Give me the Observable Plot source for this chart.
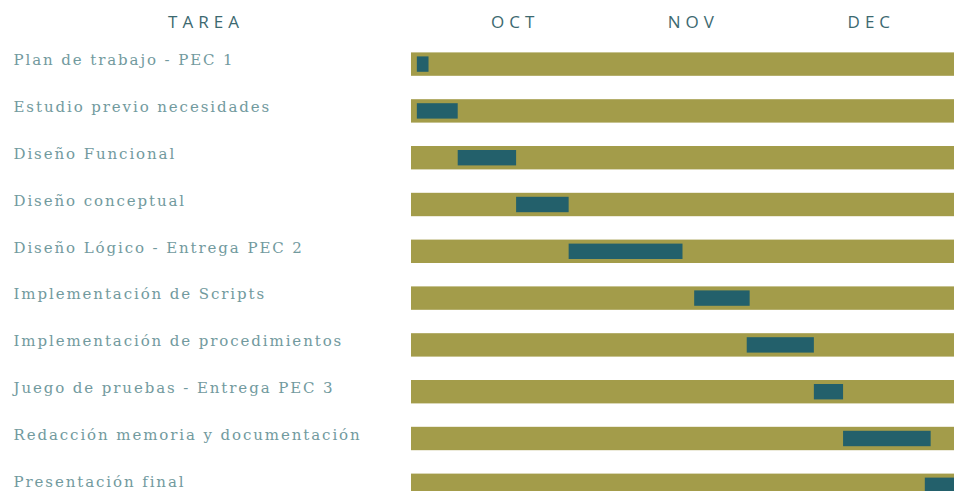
<!DOCTYPE html>
<html><head><meta charset="utf-8">
<script src="https://cdn.jsdelivr.net/npm/d3@7"></script>
<script src="https://cdn.jsdelivr.net/npm/@observablehq/plot@0.6"></script>
<style>
html,body{margin:0;padding:0;background:#fff;overflow:hidden;}
#chart svg{display:block;}
g[font-family="DejaVu Serif"] text{letter-spacing:1.9px;}
g[font-family="Open Sans"] text{letter-spacing:5px;}
</style></head><body><div id="chart"></div>
<script>
// Task names (rows, top to bottom)
const tasks = [
  "Plan de trabajo - PEC 1",
  "Estudio previo necesidades",
  "Diseño Funcional",
  "Diseño conceptual",
  "Diseño Lógico - Entrega PEC 2",
  "Implementación de Scripts",
  "Implementación de procedimientos",
  "Juego de pruebas - Entrega PEC 3",
  "Redacción memoria y documentación",
  "Presentación final"
];
// Start / end of each task
const starts = [
  "2019-09-30", "2019-09-30", "2019-10-07", "2019-10-17", "2019-10-26",
  "2019-11-16T12:00", "2019-11-25T12:00", "2019-12-07", "2019-12-12", "2019-12-26"
];
const ends = [
  "2019-10-02", "2019-10-07", "2019-10-17", "2019-10-26", "2019-11-14T12:00",
  "2019-11-26", "2019-12-07", "2019-12-12", "2019-12-27", "2019-12-31"
];
// Whole planning period (background bars)
const periodStart = "2019-09-29";
const periodEnd = "2019-12-31";
// Month tick labels
const monthStarts = ["2019-10-01", "2019-11-01", "2019-12-01"];
const monthLabels = ["OCT", "NOV", "DEC"];
const columnTitle = "TAREA";

const olive = "#a39c4a";
const teal = "#23606b";

const rows = tasks.map((t, i) => ({task: t, start: new Date(starts[i]), end: new Date(ends[i])}));
const bg = tasks.map(t => ({task: t, start: new Date(periodStart), end: new Date(periodEnd)}));
const months = monthStarts.map((m, i) => {
  const a = new Date(m), b = d3.utcMonth.offset(a, 1);
  return {mid: new Date((+a + +b) / 2), label: monthLabels[i]};
});

const chart = Plot.plot({
  width: 954,
  height: 491,
  marginLeft: 0, marginRight: 0, marginTop: 0, marginBottom: 0,
  style: {background: "white"},
  x: {type: "utc", domain: [new Date(periodStart), new Date(periodEnd)], range: [411, 954], axis: null},
  y: {type: "band", domain: tasks, range: [52.4, 497], paddingInner: 0.5, paddingOuter: 0, round: false, axis: null},
  marks: [
    Plot.barX(bg, {y: "task", x1: "start", x2: "end", fill: olive}),
    Plot.barX(rows, {y: "task", x1: "start", x2: "end", fill: teal, insetTop: 4, insetBottom: 4}),
    Plot.text(tasks, {y: d => d, text: d => d, frameAnchor: "left", textAnchor: "start", dx: 13, dy: -4,
      fill: "#729a9e", fontFamily: "DejaVu Serif", fontSize: 15}),
    Plot.text(months, {x: "mid", text: "label", frameAnchor: "top", dx: 1.5, dy: 22, lineAnchor: "middle",
      fill: "#3c6970", fontFamily: "Open Sans", fontSize: 17}),
    Plot.text([columnTitle], {frameAnchor: "top-left", dx: 205.5, dy: 22, textAnchor: "middle", lineAnchor: "middle",
      fill: "#3c6970", fontFamily: "Open Sans", fontSize: 17})
  ]
});
document.getElementById("chart").appendChild(chart);
</script>
</body></html>
